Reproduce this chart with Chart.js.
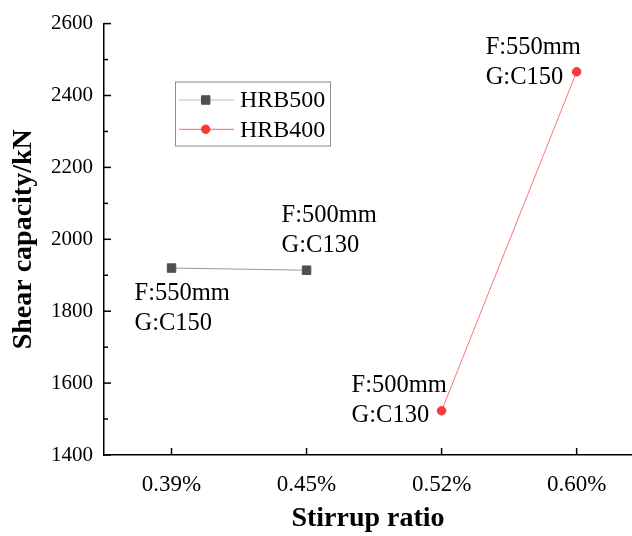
<!DOCTYPE html>
<html>
<head>
<meta charset="utf-8">
<script src="https://cdn.jsdelivr.net/npm/chart.js@4.4.1/dist/chart.umd.min.js"></script>
<style>
  html, body { margin: 0; padding: 0; background: #fff; overflow: hidden; }
  #wrap { width: 632px; height: 536px; }
</style>
</head>
<body>
<div id="wrap"><canvas id="myChart"></canvas></div>
<script>
// categorias del eje x
const stirrupRatio = ['0.39%', '0.45%', '0.52%', '0.60%'];
// capacidad a cortante (kN), null = sin dato
const hrb500 = [1920, 1914, null, null];
const hrb400 = [null, null, 1523, 2466];
// etiquetas del eje y (cada 200, con ticks menores cada 100)
const yTicks = [1400, 1600, 1800, 2000, 2200, 2400, 2600];
// notas junto a cada punto
const notesHrb500 = [['F:550mm', 'G:C150'], ['F:500mm', 'G:C130'], null, null];
const notesHrb400 = [null, null, ['F:500mm', 'G:C130'], ['F:550mm', 'G:C150']];

const serif = "'Liberation Serif', 'Times New Roman', serif";

// desplazamiento de cada nota respecto a su punto (px): [dx, dy de la primera linea]
const noteOffsets = [
  [[-37, 32], [-25, -48], null, null],
  [null, null, [-90, -19], [-91, -18]]
];

// ticks hacia adentro, como en Origin
const ticksAdentro = {
  id: 'ticksAdentro',
  afterDraw(chart) {
    const ctx = chart.ctx;
    const x = chart.scales.x, y = chart.scales.y;
    ctx.save();
    ctx.strokeStyle = '#000';
    ctx.lineWidth = 1.5;
    y.ticks.forEach(t => {
      const py = y.getPixelForValue(t.value);
      const len = yTicks.includes(t.value) ? 7 : 4;
      ctx.beginPath();
      ctx.moveTo(y.right, py);
      ctx.lineTo(y.right + len, py);
      ctx.stroke();
    });
    x.ticks.forEach(t => {
      const px = x.getPixelForValue(t.value);
      ctx.beginPath();
      ctx.moveTo(px, x.top);
      ctx.lineTo(px, x.top - 7);
      ctx.stroke();
    });
    ctx.restore();
  }
};

// notas de texto F / G
const notas = {
  id: 'notas',
  afterDatasetsDraw(chart) {
    const ctx = chart.ctx;
    const x = chart.scales.x, y = chart.scales.y;
    const allNotes = [notesHrb500, notesHrb400];
    const allValues = [hrb500, hrb400];
    ctx.save();
    ctx.fillStyle = '#000';
    ctx.font = '24.5px ' + serif;
    ctx.textAlign = 'left';
    ctx.textBaseline = 'alphabetic';
    allNotes.forEach((notes, s) => {
      notes.forEach((lines, i) => {
        if (!lines) return;
        const px = x.getPixelForValue(i);
        const py = y.getPixelForValue(allValues[s][i]);
        const off = noteOffsets[s][i];
        lines.forEach((txt, k) => {
          ctx.fillText(txt, px + off[0], py + off[1] + k * 30);
        });
      });
    });
    ctx.restore();
  }
};

// leyenda dentro del area
function drawMarker(ctx, ds, cx, cy) {
  ctx.fillStyle = ds.pointBackgroundColor;
  ctx.strokeStyle = ds.pointBorderColor;
  ctx.lineWidth = 1;
  ctx.beginPath();
  if (ds.pointStyle === 'rect') {
    const h = ds.pointRadius * Math.SQRT1_2;
    ctx.rect(cx - h, cy - h, 2 * h, 2 * h);
  } else {
    ctx.arc(cx, cy, ds.pointRadius, 0, Math.PI * 2);
  }
  ctx.fill();
  ctx.stroke();
}

const leyenda = {
  id: 'leyenda',
  afterDraw(chart) {
    const ctx = chart.ctx;
    ctx.save();
    ctx.strokeStyle = '#8c8c8c';
    ctx.lineWidth = 1;
    ctx.strokeRect(175.5, 82, 155, 64);
    chart.data.datasets.forEach((ds, i) => {
      const cy = 100 + i * 29.3;
      ctx.strokeStyle = ds.legendLine;
      ctx.lineWidth = 1;
      ctx.beginPath();
      ctx.moveTo(179, cy);
      ctx.lineTo(234, cy);
      ctx.stroke();
      drawMarker(ctx, ds, 205.7, cy);
      ctx.fillStyle = '#000';
      ctx.font = '24px ' + serif;
      ctx.textAlign = 'left';
      ctx.textBaseline = 'middle';
      ctx.fillText(ds.label, 240, cy + 1);
    });
    ctx.restore();
  }
};

const myChart = new Chart(document.getElementById('myChart'), {
  type: 'line',
  data: {
    datasets: [{
      label: 'HRB500',
      data: hrb500.map((v, i) => ({ x: i, y: v })),
      borderColor: '#9a9a9a',
      legendLine: '#bdbdbd',
      borderWidth: 1,
      pointStyle: 'rect',
      pointRadius: 6,
      pointBackgroundColor: '#4f4f4f',
      pointBorderColor: '#4f4f4f',
      pointBorderWidth: 1,
      tension: 0
    }, {
      label: 'HRB400',
      data: hrb400.map((v, i) => ({ x: i, y: v })),
      borderColor: '#ff7373',
      legendLine: '#ff6666',
      borderWidth: 1,
      pointStyle: 'circle',
      pointRadius: 4.3,
      pointBackgroundColor: '#f53b3b',
      pointBorderColor: '#f53b3b',
      pointBorderWidth: 1,
      tension: 0
    }]
  },
  options: {
    responsive: true,
    maintainAspectRatio: false,
    animation: false,
    layout: { autoPadding: false, padding: { top: 23, right: 0, bottom: 0, left: 0 } },
    plugins: {
      legend: { display: false },
      tooltip: { enabled: false }
    },
    scales: {
      x: {
        type: 'linear',
        min: -0.5,
        max: 3.41,
        afterBuildTicks: s => { s.ticks = stirrupRatio.map((c, i) => ({ value: i })); },
        afterFit: s => { s.height = 81; s.paddingLeft = 0; s.paddingRight = 0; },
        grid: { display: false, drawTicks: false },
        border: { display: true, color: '#000', width: 1.5 },
        ticks: {
          callback: v => stirrupRatio[v],
          color: '#000',
          padding: 16,
          autoSkip: false,
          maxRotation: 0,
          font: { family: serif, size: 23 }
        },
        title: {
          display: true,
          text: 'Stirrup ratio',
          color: '#000',
          font: { family: serif, size: 28, weight: 'bold' },
          padding: { top: 0, bottom: 0 }
        }
      },
      y: {
        min: yTicks[0],
        max: yTicks[yTicks.length - 1],
        afterFit: s => { s.width = 104; },
        grid: { display: false, drawTicks: false },
        border: { display: true, color: '#000', width: 1.5 },
        ticks: {
          stepSize: 100,
          callback: v => yTicks.includes(v) ? String(v) : '',
          color: '#000',
          padding: 11,
          autoSkip: false,
          font: { family: serif, size: 21 }
        },
        title: {
          display: true,
          text: 'Shear capacity/kN',
          color: '#000',
          font: { family: serif, size: 28, weight: 'bold' },
          padding: { top: 7, bottom: 0 }
        }
      }
    }
  },
  plugins: [ticksAdentro, notas, leyenda]
});
</script>
</body>
</html>
